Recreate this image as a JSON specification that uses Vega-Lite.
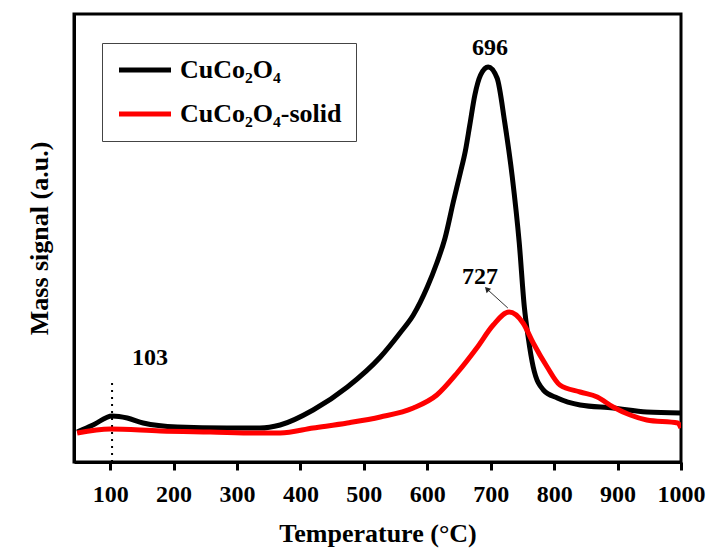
{
  "$schema": "https://vega.github.io/schema/vega-lite/v6.json",
  "width": 607,
  "height": 448,
  "autosize": {"type": "none"},
  "padding": {"left": 74, "top": 14, "right": 32, "bottom": 93},
  "background": "white",
  "config": {
    "view": {"stroke": "black", "strokeWidth": 3},
    "font": "Liberation Serif",
    "axis": {"grid": false, "domainColor": "black", "domainWidth": 3, "tickColor": "black", "labelColor": "black", "titleColor": "black", "labelFont": "Liberation Serif", "titleFont": "Liberation Serif", "labelFontWeight": "bold", "titleFontWeight": "bold"}
  },
  "datasets": {
    "curves": [
      {"t": 48, "v": 30, "s": "CuCo₂O₄"},
      {"t": 73, "v": 37, "s": "CuCo₂O₄"},
      {"t": 103, "v": 46, "s": "CuCo₂O₄"},
      {"t": 127, "v": 44, "s": "CuCo₂O₄"},
      {"t": 152, "v": 39, "s": "CuCo₂O₄"},
      {"t": 206, "v": 35, "s": "CuCo₂O₄"},
      {"t": 284, "v": 34, "s": "CuCo₂O₄"},
      {"t": 336, "v": 34, "s": "CuCo₂O₄"},
      {"t": 368, "v": 37, "s": "CuCo₂O₄"},
      {"t": 420, "v": 52, "s": "CuCo₂O₄"},
      {"t": 474, "v": 75, "s": "CuCo₂O₄"},
      {"t": 526, "v": 105, "s": "CuCo₂O₄"},
      {"t": 557, "v": 129, "s": "CuCo₂O₄"},
      {"t": 578, "v": 147, "s": "CuCo₂O₄"},
      {"t": 600, "v": 175, "s": "CuCo₂O₄"},
      {"t": 615, "v": 199, "s": "CuCo₂O₄"},
      {"t": 628, "v": 224, "s": "CuCo₂O₄"},
      {"t": 641, "v": 260, "s": "CuCo₂O₄"},
      {"t": 652, "v": 289, "s": "CuCo₂O₄"},
      {"t": 660, "v": 311, "s": "CuCo₂O₄"},
      {"t": 667, "v": 337, "s": "CuCo₂O₄"},
      {"t": 675, "v": 367, "s": "CuCo₂O₄"},
      {"t": 684, "v": 387, "s": "CuCo₂O₄"},
      {"t": 696, "v": 395, "s": "CuCo₂O₄"},
      {"t": 710, "v": 384, "s": "CuCo₂O₄"},
      {"t": 722, "v": 340, "s": "CuCo₂O₄"},
      {"t": 734, "v": 285, "s": "CuCo₂O₄"},
      {"t": 745, "v": 219, "s": "CuCo₂O₄"},
      {"t": 753, "v": 155, "s": "CuCo₂O₄"},
      {"t": 759, "v": 125, "s": "CuCo₂O₄"},
      {"t": 767, "v": 95, "s": "CuCo₂O₄"},
      {"t": 783, "v": 72, "s": "CuCo₂O₄"},
      {"t": 805, "v": 64, "s": "CuCo₂O₄"},
      {"t": 841, "v": 57, "s": "CuCo₂O₄"},
      {"t": 893, "v": 54, "s": "CuCo₂O₄"},
      {"t": 946, "v": 50, "s": "CuCo₂O₄"},
      {"t": 1000, "v": 49, "s": "CuCo₂O₄"},
      {"t": 48, "v": 29, "s": "CuCo₂O₄-solid"},
      {"t": 100, "v": 33, "s": "CuCo₂O₄-solid"},
      {"t": 179, "v": 31, "s": "CuCo₂O₄-solid"},
      {"t": 258, "v": 30, "s": "CuCo₂O₄-solid"},
      {"t": 336, "v": 29, "s": "CuCo₂O₄-solid"},
      {"t": 368, "v": 29, "s": "CuCo₂O₄-solid"},
      {"t": 420, "v": 34, "s": "CuCo₂O₄-solid"},
      {"t": 474, "v": 39, "s": "CuCo₂O₄-solid"},
      {"t": 526, "v": 45, "s": "CuCo₂O₄-solid"},
      {"t": 578, "v": 54, "s": "CuCo₂O₄-solid"},
      {"t": 615, "v": 67, "s": "CuCo₂O₄-solid"},
      {"t": 647, "v": 89, "s": "CuCo₂O₄-solid"},
      {"t": 678, "v": 114, "s": "CuCo₂O₄-solid"},
      {"t": 704, "v": 137, "s": "CuCo₂O₄-solid"},
      {"t": 729, "v": 150, "s": "CuCo₂O₄-solid"},
      {"t": 751, "v": 139, "s": "CuCo₂O₄-solid"},
      {"t": 767, "v": 119, "s": "CuCo₂O₄-solid"},
      {"t": 789, "v": 95, "s": "CuCo₂O₄-solid"},
      {"t": 809, "v": 77, "s": "CuCo₂O₄-solid"},
      {"t": 841, "v": 70, "s": "CuCo₂O₄-solid"},
      {"t": 868, "v": 65, "s": "CuCo₂O₄-solid"},
      {"t": 893, "v": 55, "s": "CuCo₂O₄-solid"},
      {"t": 920, "v": 47, "s": "CuCo₂O₄-solid"},
      {"t": 946, "v": 42, "s": "CuCo₂O₄-solid"},
      {"t": 995, "v": 39, "s": "CuCo₂O₄-solid"},
      {"t": 1000, "v": 34, "s": "CuCo₂O₄-solid"}
    ],
    "labels": [
      {"t": 699, "v": 414, "label": "696"},
      {"t": 683, "v": 185, "label": "727"},
      {"t": 163, "v": 104, "label": "103"}
    ],
    "dotted": [{"t": 103, "v": 0, "v2": 80}],
    "arrow": [{"t": 727, "v": 154, "t2": 694, "v2": 173}]
  },
  "layer": [
    {
      "data": {"name": "dotted"},
      "mark": {"type": "rule", "color": "black", "strokeWidth": 2, "strokeDash": [2, 5]},
      "encoding": {
        "x": {"field": "t", "type": "quantitative", "scale": {"domain": [43, 1000], "nice": false}},
        "y": {"field": "v", "type": "quantitative", "scale": {"domain": [0, 448], "nice": false}},
        "y2": {"field": "v2"}
      }
    },
    {
      "data": {"name": "curves"},
      "mark": {"type": "line", "strokeWidth": 5, "interpolate": "monotone", "clip": true},
      "encoding": {
        "x": {"field": "t", "type": "quantitative", "scale": {"domain": [43, 1000], "nice": false},
          "axis": {"values": [100, 200, 300, 400, 500, 600, 700, 800, 900, 1000], "format": "d", "tickSize": 8, "tickWidth": 3, "labelFontSize": 24, "labelPadding": 12, "labelOverlap": false, "labelFlush": false, "title": "Temperature (°C)", "titleFontSize": 26, "titlePadding": 14}},
        "y": {"field": "v", "type": "quantitative", "scale": {"domain": [0, 448], "nice": false},
          "axis": {"labels": false, "ticks": false, "title": "Mass signal (a.u.)", "titleFontSize": 26, "titlePadding": 22}},
        "color": {"field": "s", "type": "nominal",
          "scale": {"domain": ["CuCo₂O₄", "CuCo₂O₄-solid"], "range": ["black", "#ff0000"]},
          "legend": {"title": null, "orient": "none", "legendX": 28, "legendY": 29, "strokeColor": "#444", "padding": 14, "fillColor": "white",
            "symbolType": "M-1,0H4.2", "symbolSize": 400, "symbolStrokeWidth": 5, "labelOffset": 38, "labelLimit": 400,
            "labelFont": "Liberation Serif", "labelFontSize": 26, "labelFontWeight": "bold", "labelColor": "black", "rowPadding": 18}}
      }
    },
    {
      "data": {"name": "arrow"},
      "mark": {"type": "rule", "color": "#333", "strokeWidth": 1},
      "encoding": {
        "x": {"field": "t", "type": "quantitative"},
        "y": {"field": "v", "type": "quantitative"},
        "x2": {"field": "t2"},
        "y2": {"field": "v2"}
      }
    },
    {
      "data": {"name": "arrow"},
      "mark": {"type": "point", "shape": "triangle-up", "filled": true, "color": "#222", "size": 40, "angle": 315, "opacity": 1},
      "encoding": {
        "x": {"field": "t2", "type": "quantitative"},
        "y": {"field": "v2", "type": "quantitative"}
      }
    },
    {
      "data": {"name": "labels"},
      "mark": {"type": "text", "font": "Liberation Serif", "fontSize": 24, "fontWeight": "bold", "color": "black", "baseline": "middle", "align": "center"},
      "encoding": {
        "x": {"field": "t", "type": "quantitative"},
        "y": {"field": "v", "type": "quantitative"},
        "text": {"field": "label"}
      }
    }
  ]
}
